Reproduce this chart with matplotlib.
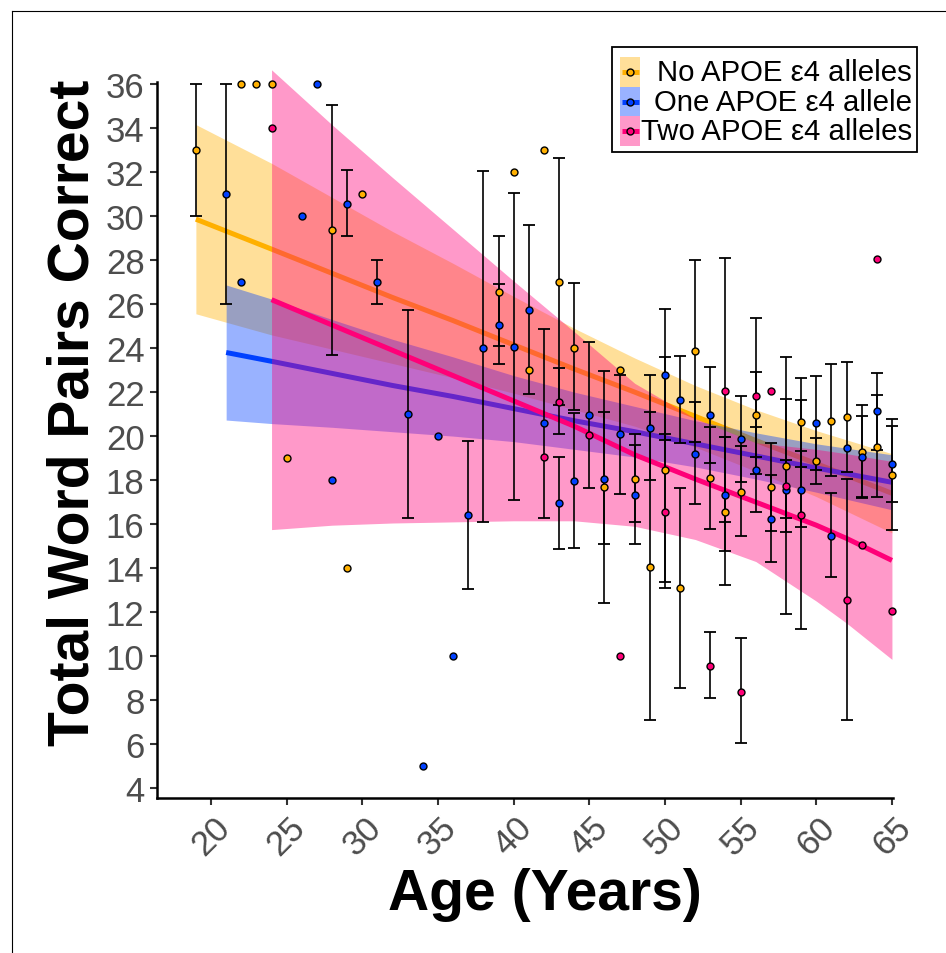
import numpy as np
import matplotlib.pyplot as plt
from matplotlib.patches import Rectangle
from matplotlib.lines import Line2D

plt.rcParams['font.family'] = ['Liberation Sans', 'DejaVu Sans']

# colores de los grupos
col_no = '#FFB000'
col_one = '#0040FF'
col_two = '#FF0078'

labels = ['No APOE \u03b54 alleles', 'One APOE \u03b54 allele', 'Two APOE \u03b54 alleles']

# medias por edad (sin alelo e4); nan = sin barra de error
age_no = [19, 22, 23, 24, 25, 28, 29, 30, 39, 40, 41, 42, 43, 44, 46, 47, 48, 49, 50, 51,
          52, 53, 54, 55, 56, 57, 58, 59, 60, 61, 62, 63, 64, 65]
score_no = [33, 36, 36, 36, 19, 29.35, 14, 31, 26.55, 32, 23, 33, 27, 24, 17.67, 23, 18.06, 14.06, 18.47, 13.08,
            23.87, 18.08, 16.57, 17.47, 20.95, 17.67, 18.65, 20.62, 18.85, 20.7, 20.85, 19.29, 19.49, 18.24]
lo_no = [30, np.nan, np.nan, np.nan, np.nan, 23.7, np.nan, np.nan, 23.26, np.nan, np.nan, np.nan, 21.4, 21.2,
         12.42, np.nan, 16.1, 7.1, 13.38, 8.55, 19.72, 15.8, 13.23, 15.44, 19.06, 15.7, 15.62, 18.6, 17.82,
         18.17, 18.35, 17.2, 17.21, 15.74]
hi_no = [36, np.nan, np.nan, np.nan, np.nan, 35.05, np.nan, np.nan, 29.08, np.nan, np.nan, np.nan, 32.64, 26.95,
         22.95, np.nan, 20.08, 21.08, 23.6, 17.64, 28.01, 20.4, 19.94, 19.56, 22.9, 19.67, 21.68, 22.65, 19.91,
         23.29, 23.39, 21.42, 21.85, 20.77]

# un alelo e4
age_one = [21, 22, 26, 27, 28, 29, 31, 33, 34, 35, 36, 37, 38, 39, 40, 41, 42, 43, 44, 45, 46, 47, 48,
           49, 50, 51, 52, 53, 54, 55, 56, 57, 58, 59, 60, 61, 62, 63, 64, 65]
score_one = [31, 27, 30, 36, 18, 30.55, 27, 21, 5, 20, 10, 16.4, 24, 25.06, 24.05, 25.73, 20.58, 16.94, 17.94,
             20.94, 18.06, 20.08, 17.32, 20.35, 22.76, 21.65, 19.2, 20.94, 17.33, 19.86, 18.44, 16.23, 17.57,
             17.57, 20.58, 15.47, 19.44, 19.07, 21.12, 18.73]
lo_one = [26, np.nan, np.nan, np.nan, np.nan, 29.1, 26, 16.3, np.nan, np.nan, np.nan, 13.05, 16.1, 24.08, 17.09,
          21.9, 16.3, 14.86, 14.9, 17.64, 15.09, 17.38, 15.09, 17.99, 19.82, 19.68, 16.9, 18.79, 14.79, 17.93,
          16.56, 14.29, 16.26, 15.85, 18.47, 13.6, np.nan, 17.24, 19.36, 17.01]
hi_one = [36, np.nan, np.nan, np.nan, np.nan, 32.1, 28, 25.75, np.nan, np.nan, np.nan, 19.8, 32.06, 26.9, 31.07,
          29.59, 24.86, 19.03, 21.05, 24.29, 21.09, 22.79, 19.59, 22.76, 25.76, 23.66, 21.53, 23.13, 19.94, 21.83,
          20.4, 18.23, 18.91, 19.33, 22.74, 17.41, np.nan, 20.92, 22.88, 20.47]

# dos alelos e4
age_two = [24, 42, 43, 45, 47, 50, 53, 54, 55, 56, 57, 58, 59, 62, 63, 64, 65]
score_two = [34, 19.05, 21.56, 20.06, 10, 16.57, 9.57, 22.05, 8.37, 21.82, 22.03, 17.74, 16.42, 12.57, 15.05,
             28.05, 12.05]
lo_two = [np.nan, np.nan, 20.09, np.nan, np.nan, 13.1, 8.1, 16.1, 6.03, 18.27, np.nan, 11.92, 11.23, 7.09,
          np.nan, np.nan, np.nan]
hi_two = [np.nan, np.nan, 23.08, np.nan, np.nan, 20.08, 11.1, 28.08, 10.83, 25.39, np.nan, 23.6, 21.64, 18.05,
          np.nan, np.nan, np.nan]

# curvas de ajuste y bandas
fit_x_no = [19, 24, 28, 32, 36, 40, 44, 48, 52, 56, 60, 65]
fit_no = [29.86, 28.5, 27.4, 26.3, 25.25, 24.15, 23.05, 22.0, 20.9, 19.8, 18.75, 17.4]
fit_lo_no = [25.56, 24.6, 23.95, 23.3, 22.65, 21.95, 21.2, 20.45, 19.5, 18.4, 17.25, 15.6]
fit_hi_no = [34.16, 32.4, 30.85, 29.3, 27.85, 26.35, 24.9, 23.55, 22.3, 21.2, 20.25, 19.2]

fit_x_one = [21, 24, 28, 32, 36, 40, 44, 48, 52, 56, 60, 65]
fit_one = [23.8, 23.4, 22.85, 22.3, 21.8, 21.25, 20.7, 20.2, 19.65, 19.1, 18.55, 17.9]
fit_lo_one = [20.73, 20.57, 20.4, 20.2, 20.0, 19.75, 19.4, 19.05, 18.6, 18.05, 17.45, 16.65]
fit_hi_one = [26.87, 26.23, 25.3, 24.4, 23.6, 22.75, 22.0, 21.35, 20.7, 20.15, 19.65, 19.15]

fit_x_two = [24, 28, 32, 36, 40, 44, 48, 52, 56, 60, 62, 65]
fit_two = [26.2, 25.05, 23.9, 22.75, 21.6, 20.45, 19.15, 18.05, 17.0, 15.95, 15.35, 14.35]
fit_lo_two = [15.75, 15.95, 16.05, 16.1, 16.15, 16.15, 15.9, 15.3, 14.3, 12.5, 11.5, 9.85]
fit_hi_two = [36.65, 34.15, 31.75, 29.4, 27.05, 24.75, 22.4, 20.8, 19.7, 19.4, 19.2, 18.85]

W, H = 946, 954
fig = plt.figure(figsize=(W / 100, H / 100), dpi=100)
ax = fig.add_axes([157 / W, 155 / H, 736 / W, 716.1 / H])

# bandas y lineas (orden como ggplot: banda, linea por grupo)
grupos = [(fit_x_no, fit_no, fit_lo_no, fit_hi_no, col_no),
          (fit_x_one, fit_one, fit_lo_one, fit_hi_one, col_one),
          (fit_x_two, fit_two, fit_lo_two, fit_hi_two, col_two)]
z = 1
for fx_, fy_, flo, fhi, c in grupos:
    ax.fill_between(fx_, flo, fhi, color=c, alpha=0.4, lw=0, zorder=z, clip_on=False)
    ax.plot(fx_, fy_, color=c, lw=3.6, solid_capstyle='butt', zorder=z + 0.1)
    z += 0.2

# barras de error y puntos
puntos = [(age_no, score_no, lo_no, hi_no, col_no),
          (age_one, score_one, lo_one, hi_one, col_one),
          (age_two, score_two, lo_two, hi_two, col_two)]
for a, s, lo, hi, c in puntos:
    s = np.array(s)
    yerr = [s - np.array(lo), np.array(hi) - s]
    ax.errorbar(a, s, yerr=yerr, fmt='none', ecolor='black', elinewidth=1.2,
                capsize=4.5, capthick=1.3, zorder=2, clip_on=False)
for a, s, lo, hi, c in puntos:
    ax.plot(a, s, 'o', ms=5, mfc=c, mec='black', mew=1.0, ls='', zorder=3, clip_on=False)

ax.set_xlim(16.43, 65.07)
ax.set_ylim(3.55, 36.1)
ax.set_xticks(np.arange(20, 66, 5))
ax.set_yticks(np.arange(4, 37, 2))

for s in ['top', 'right']:
    ax.spines[s].set_visible(False)
for s in ['left', 'bottom']:
    ax.spines[s].set_linewidth(1.8)
    ax.spines[s].set_color('black')

ax.tick_params(axis='both', length=5, width=1.5, color='#333333',
               labelsize=25, labelcolor='#4D4D4D', pad=4)
for t in ax.get_xticklabels():
    t.set_rotation(45)
    t.set_ha('center')
    t.set_va('top')

ax.set_xlabel('Age (Years)', fontsize=41, fontweight='bold')
ax.set_ylabel('Total Word Pairs Correct', fontsize=41, fontweight='bold')
ax.xaxis.set_label_coords(0.527, -0.096)
ax.yaxis.set_label_coords(-0.077, 0.539)

# leyenda dibujada a mano (texto alineado a la derecha como en ggplot)
def fx(x):
    return x / W

def fy(y):
    return 1 - y / H

fig.add_artist(Rectangle((fx(612), fy(153)), 305 / W, 105 / H, transform=fig.transFigure,
                         facecolor='white', edgecolor='black', lw=1.3, zorder=5))
fila = 29.7
for i, (c, lab) in enumerate(zip([col_no, col_one, col_two], labels)):
    y0 = 58 + i * fila
    yc = y0 + fila / 2
    fig.add_artist(Rectangle((fx(620), fy(y0 + fila)), 20 / W, fila / H, transform=fig.transFigure,
                             facecolor=c, alpha=0.4, edgecolor='none', zorder=6))
    fig.add_artist(Line2D([fx(621.5), fx(638.5)], [fy(yc), fy(yc)], transform=fig.transFigure,
                          color=c, lw=3.6, solid_capstyle='butt', zorder=7))
    fig.add_artist(Line2D([fx(630)], [fy(yc)], transform=fig.transFigure, marker='o', ls='',
                          mfc=c, mec='black', ms=5, mew=1.0, zorder=8))
    fig.text(fx(912), fy(yc), lab, ha='right', va='center', fontsize=21.2, zorder=9)

# marco de la figura
fig.add_artist(Line2D([12 / W, 12 / W], [0, 1 - 12 / H], transform=fig.transFigure, color='black', lw=0.8))
fig.add_artist(Line2D([12 / W, 1], [1 - 12 / H, 1 - 12 / H], transform=fig.transFigure, color='black', lw=0.8))

plt.savefig('out.png', dpi=100)
